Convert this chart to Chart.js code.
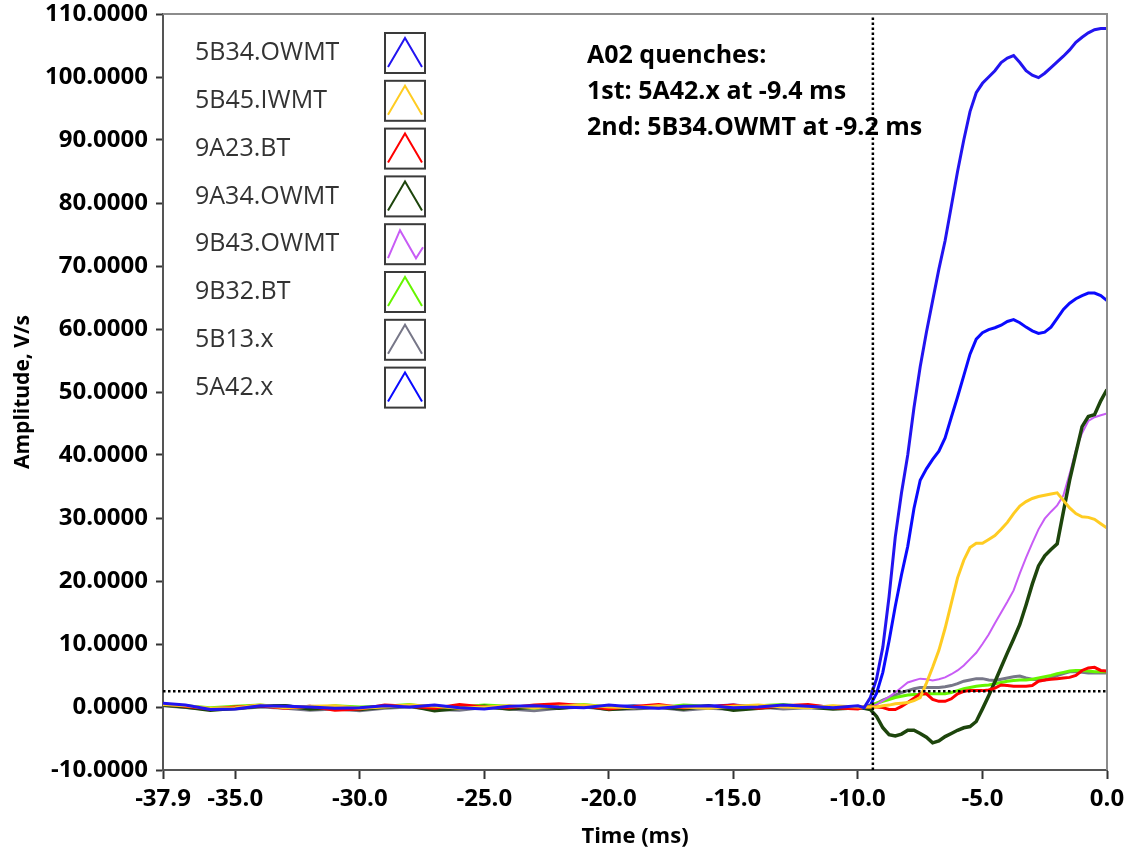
<!DOCTYPE html>
<html>
<head>
<meta charset="utf-8">
<script src="https://cdn.jsdelivr.net/npm/chart.js@4.4.1/dist/chart.umd.min.js"></script>
<style>
  html, body { margin: 0; padding: 0; background: #fff; }
</style>
</head>
<body>
<canvas id="myChart" width="1124" height="852"></canvas>
<script>
// sample times (ms) shared by every channel
const timeMs = [
  -37.9, -37, -36, -35, -34, -33, -32, -31, -30, -29, -28, -27, -26, -25, -24,
  -23, -22, -21, -20, -19, -18, -17, -16, -15, -14, -13, -12, -11, -10, -9.75,
  -9.5, -9.25, -9, -8.75, -8.5, -8.25, -8, -7.75, -7.5, -7.25, -7, -6.75, -6.5,
  -6.25, -6, -5.75, -5.5, -5.25, -5, -4.75, -4.5, -4.25, -4, -3.75, -3.5, -3.25,
  -3, -2.75, -2.5, -2.25, -2, -1.75, -1.5, -1.25, -1, -0.75, -0.5, -0.25, 0
];

// amplitude per channel (V/s)
const ch5B34_OWMT = [
  0.6, 0.3, -0.4, -0.3, 0.2, 0.1, 0.0, -0.2, -0.1, 0.2, 0.0, 0.3, -0.1, -0.3, 0.1,
  0.2, 0.0, -0.1, 0.3, 0.0, -0.2, 0.1, 0.2, -0.1, 0.0, 0.3, 0.1, -0.1, 0.2, -0.1,
  1.5, 4.5, 9.5, 17.5, 27, 34, 40, 47.5, 54, 59.5, 64.5, 69.5, 74, 79.5, 85, 90,
  94.5, 97.5, 99, 100, 101, 102.3, 103, 103.4, 102.3, 101, 100.3, 99.9, 100.6,
  101.5, 102.4, 103.3, 104.3, 105.5, 106.3, 107, 107.5, 107.7, 107.7
];
const ch5B45_IWMT = [
  0.4, 0.2, -0.2, -0.1, 0.3, -0.1, 0.1, 0.2, -0.2, 0.0, 0.3, 0.1, -0.2, 0.0, 0.2,
  -0.1, 0.1, 0.3, 0.0, -0.1, 0.2, 0.0, -0.2, 0.1, 0.3, 0.0, -0.1, 0.2, 0.0, 0.0,
  0, 0, 0.2, 0.3, 0.5, 0.6, 0.7, 1.0, 1.5, 3.8, 6.3, 9.0, 12.5, 16.5, 20.5, 23.3,
  25.3, 26, 26, 26.6, 27.2, 28.2, 29.3, 30.7, 31.9, 32.6, 33.1, 33.4, 33.6, 33.8,
  34, 32.8, 31.6, 30.7, 30.2, 30.1, 29.8, 29.1, 28.4
];
const ch9A23_BT = [
  0.5, 0.1, -0.3, 0.0, 0.2, -0.2, 0.1, -0.5, -0.3, 0.3, 0.1, -0.2, 0.4, 0.0, -0.1,
  0.3, 0.5, 0.2, -0.3, 0.1, 0.4, -0.1, 0.0, 0.3, -0.2, 0.2, 0.4, -0.1, -0.3, 0.0,
  0, 0, -0.1, -0.4, -0.4, 0.1, 0.7, 1.4, 2.1, 2.1, 1.2, 0.9, 0.9, 1.3, 2.1, 2.5,
  2.6, 2.6, 2.6, 2.7, 3.0, 3.5, 3.4, 3.3, 3.3, 3.3, 3.4, 4.1, 4.3, 4.4, 4.5, 4.6,
  4.7, 5.0, 5.8, 6.2, 6.3, 5.8, 5.7
];
const ch9A34_OWMT = [
  0.3, 0.0, -0.5, -0.2, 0.1, 0.2, -0.3, -0.1, -0.4, 0.0, 0.2, -0.6, -0.2, 0.1, -0.3,
  0.0, -0.2, 0.2, -0.4, -0.1, 0.0, -0.3, 0.2, -0.5, -0.2, 0.1, 0.0, -0.3, -0.1, -0.2,
  -0.4, -1.5, -3.3, -4.4, -4.6, -4.3, -3.7, -3.7, -4.2, -4.8, -5.7, -5.4, -4.7,
  -4.2, -3.7, -3.3, -3.1, -2.3, -0.3, 1.8, 4.0, 6.3, 8.6, 10.8, 13.1, 16.2, 19.5,
  22.4, 24, 25, 25.9, 31, 36, 40.3, 44.5, 46.1, 46.4, 48.6, 50.4
];
const ch9B43_OWMT = [
  0.2, 0.1, -0.2, 0.0, 0.1, -0.1, 0.2, 0.0, -0.2, 0.1, 0.0, 0.2, -0.1, 0.0, 0.1,
  -0.2, 0.1, 0.0, 0.2, -0.1, 0.0, 0.1, -0.1, 0.2, 0.0, -0.1, 0.1, 0.0, -0.1, 0.0,
  0, 0.4, 1.0, 1.6, 2.3, 3.1, 3.9, 4.2, 4.5, 4.4, 4.2, 4.4, 4.7, 5.2, 5.8, 6.6,
  7.6, 8.6, 10.0, 11.5, 13.3, 15, 16.7, 18.5, 21.2, 23.7, 26, 28.2, 29.9, 31, 32,
  33.6, 37, 40.8, 43.5, 45.4, 46, 46.3, 46.6
];
const ch9B32_BT = [
  0.3, 0.2, -0.1, 0.1, 0.3, 0.0, -0.2, 0.2, 0.0, 0.1, 0.4, -0.1, 0.0, 0.3, 0.1,
  -0.2, 0.2, 0.4, 0.0, 0.1, -0.1, 0.3, 0.1, 0.0, 0.2, 0.4, 0.0, 0.1, -0.1, 0.0,
  0.1, 0.6, 0.9, 1.2, 1.5, 1.7, 1.9, 2.0, 2.0, 2.1, 2.1, 2.1, 2.1, 2.3, 2.6, 2.9,
  3.1, 3.3, 3.4, 3.5, 3.7, 3.9, 4.1, 4.2, 4.3, 4.3, 4.4, 4.6, 4.8, 5.0, 5.3, 5.5,
  5.7, 5.8, 5.8, 5.7, 5.6, 5.6, 5.6
];
const ch5B13_x = [
  0.2, -0.1, -0.4, -0.3, 0.0, -0.2, -0.5, -0.3, -0.6, -0.2, 0.0, -0.4, -0.5, -0.1,
  -0.3, -0.6, -0.2, 0.0, -0.4, -0.3, -0.1, -0.5, -0.2, -0.4, 0.0, -0.3, -0.1, -0.2,
  0.0, -0.1,
  0.2, 0.6, 1.1, 1.5, 1.9, 2.3, 2.6, 2.9, 3.1, 3.1, 3.1, 3.1, 3.2, 3.4, 3.7, 4.1,
  4.3, 4.5, 4.5, 4.3, 4.2, 4.4, 4.6, 4.8, 4.9, 4.6, 4.4, 4.3, 4.3, 4.6, 5.0, 5.3,
  5.6, 5.6, 5.5, 5.4, 5.4, 5.4, 5.4
];
const ch5A42_x = [
  0.4, 0.2, -0.3, -0.2, 0.1, 0.2, -0.1, 0.1, -0.2, 0.0, 0.2, 0.1, -0.1, 0.2, 0.0,
  -0.1, 0.2, 0.1, 0.0, 0.2, -0.1, 0.0, 0.1, 0.3, 0.0, -0.1, 0.2, 0.0, -0.1, 0.0,
  0.3, 2.2, 5.5, 10.5, 16, 21, 25.5, 31.5, 36, 37.8, 39.3, 40.6, 42.7, 46, 49.2,
  52.6, 56, 58.4, 59.4, 59.9, 60.2, 60.6, 61.2, 61.5, 61, 60.3, 59.7, 59.3, 59.5,
  60.3, 61.7, 63.1, 64.1, 64.8, 65.3, 65.7, 65.7, 65.3, 64.5
];

const channelNames = ['5B34.OWMT', '5B45.IWMT', '9A23.BT', '9A34.OWMT', '9B43.OWMT', '9B32.BT', '5B13.x', '5A42.x'];
const channelValues = [ch5B34_OWMT, ch5B45_IWMT, ch9A23_BT, ch9A34_OWMT, ch9B43_OWMT, ch9B32_BT, ch5B13_x, ch5A42_x];
const channelColors = ['#2214f0', '#ffcc22', '#ff0000', '#1d450c', '#c85cf5', '#66f500', '#777788', '#0a0aff'];
const channelWidths = [3, 3, 3, 3.5, 2, 3, 3, 3];

const xTickValues = [-37.9, -35, -30, -25, -20, -15, -10, -5, 0];
const quenchTime = -9.4;   // first quench marker
const threshold = 2.5;     // detection level, V/s
const noteLines = ['A02 quenches:', '1st: 5A42.x at -9.4 ms', '2nd: 5B34.OWMT at -9.2 ms'];

const FONT = "'Open Sans', 'Noto Sans', sans-serif";

const datasets = channelNames.map((name, i) => ({
  label: name,
  data: timeMs.map((t, k) => ({ x: t, y: channelValues[i][k] })),
  borderColor: channelColors[i],
  borderWidth: channelWidths[i],
  pointRadius: 0,
  tension: 0,
  fill: false,
  order: i + 2
}));

// dotted marker lines
datasets.push({
  label: 'quench',
  data: [{ x: quenchTime, y: -10 }, { x: quenchTime, y: 110 }],
  borderColor: '#000', borderWidth: 2.5, borderDash: [2.5, 2.5],
  pointRadius: 0, order: 0
});
datasets.push({
  label: 'threshold',
  data: [{ x: -37.9, y: threshold }, { x: 0, y: threshold }],
  borderColor: '#000', borderWidth: 2.5, borderDash: [2.5, 2.5],
  pointRadius: 0, order: 1
});

// frame, legend boxes and the quench note
const decorPlugin = {
  id: 'decor',
  afterDraw(chart) {
    const { ctx, chartArea: a } = chart;
    ctx.save();
    ctx.strokeStyle = '#8c8c8c';
    ctx.lineWidth = 2;
    ctx.beginPath();
    ctx.moveTo(a.left, a.top);
    ctx.lineTo(a.right, a.top);
    ctx.lineTo(a.right, a.bottom);
    ctx.stroke();

    // legend
    const rowH = 47.8;
    const y0 = 53;
    ctx.textBaseline = 'middle';
    ctx.textAlign = 'left';
    ctx.font = '25px ' + FONT;
    channelNames.forEach((name, i) => {
      const cy = y0 + i * rowH;
      ctx.fillStyle = '#333';
      ctx.fillText(name, 195, cy);
      const bx = 385, by = cy - 20, bw = 40, bh = 40;
      ctx.strokeStyle = '#3a3a3a';
      ctx.lineWidth = 2;
      ctx.strokeRect(bx, by, bw, bh);
      ctx.strokeStyle = channelColors[i];
      ctx.lineWidth = 2;
      ctx.beginPath();
      if (name === '9B43.OWMT') {
        ctx.moveTo(bx + 3, by + bh - 6);
        ctx.lineTo(bx + 15, by + 6);
        ctx.lineTo(bx + 31, by + bh - 6);
        ctx.lineTo(bx + bw - 2, by + bh - 17);
      } else {
        ctx.moveTo(bx + 3, by + bh - 6);
        ctx.lineTo(bx + bw / 2, by + 5);
        ctx.lineTo(bx + bw - 3, by + bh - 6);
      }
      ctx.stroke();
    });

    // note
    ctx.fillStyle = '#000';
    ctx.font = 'bold 25px ' + FONT;
    noteLines.forEach((line, i) => {
      ctx.fillText(line, 587, 56 + i * 36);
    });
    ctx.restore();
  }
};

const ctx = document.getElementById('myChart').getContext('2d');
new Chart(ctx, {
  type: 'line',
  data: { datasets: datasets },
  plugins: [decorPlugin],
  options: {
    responsive: false,
    animation: false,
    layout: { padding: { top: 14, right: 17, left: 0, bottom: 0 } },
    plugins: { legend: { display: false }, tooltip: { enabled: false } },
    scales: {
      x: {
        type: 'linear',
        min: -37.9,
        max: 0,
        afterBuildTicks: (scale) => {
          scale.ticks = xTickValues.map(v => ({ value: v }));
        },
        afterFit: (scale) => {
          scale.height = 82;
          scale.paddingLeft = 0;
          scale.paddingRight = 0;
        },
        ticks: {
          autoSkip: false,
          maxRotation: 0,
          color: '#000',
          padding: 6,
          font: { family: FONT, size: 24, weight: 'bold' },
          callback: (v) => Number(v).toFixed(1)
        },
        grid: { drawOnChartArea: false, tickLength: 9, tickWidth: 2, tickColor: '#333' },
        border: { color: '#555', width: 2 },
        title: {
          display: true,
          text: 'Time (ms)',
          color: '#000',
          font: { family: FONT, size: 22, weight: 'bold' },
          padding: { top: 0, bottom: 2 }
        }
      },
      y: {
        type: 'linear',
        min: -10,
        max: 110,
        afterFit: (scale) => {
          scale.width = 163;
          scale.paddingTop = 0;
          scale.paddingBottom = 0;
        },
        ticks: {
          stepSize: 10,
          color: '#000',
          padding: 8,
          font: { family: FONT, size: 24, weight: 'bold' },
          callback: (v) => Number(v).toFixed(4)
        },
        grid: { drawOnChartArea: false, tickLength: 7, tickWidth: 2, tickColor: '#333' },
        border: { color: '#555', width: 2 },
        title: {
          display: true,
          text: 'Amplitude, V/s',
          color: '#000',
          font: { family: FONT, size: 21, weight: 'bold' },
          padding: { top: 10, bottom: 0 }
        }
      }
    }
  }
});
</script>
</body>
</html>
